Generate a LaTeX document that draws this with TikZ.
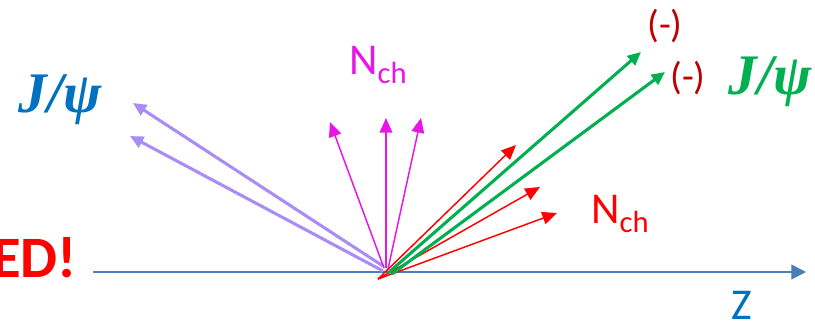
\documentclass[tikz,border=0pt]{standalone}
\usepackage{fontspec}
\setmainfont{Carlito}
\newfontfamily\jfont{Liberation Serif}
\usetikzlibrary{arrows.meta}
\definecolor{axisblue}{RGB}{74,126,187}
\definecolor{zblue}{RGB}{0,112,192}
\definecolor{lilac}{RGB}{170,140,245}
\definecolor{mag}{RGB}{232,20,232}
\definecolor{dred}{RGB}{192,0,0}
\definecolor{gr}{RGB}{0,176,80}
\tikzset{
  thickarr/.style={line width=2.3pt,-{Triangle[length=10pt,width=9pt]}},
  thinarr/.style={line width=1.1pt,-{Triangle[length=11pt,width=9.5pt]}},
  lbl/.style={inner sep=0pt,font=\fontsize{33}{33}\selectfont},
  jpsi/.style={inner sep=0pt,font=\jfont\bfseries\itshape\fontsize{43}{43}\selectfont},
  minus/.style={inner sep=0pt,text=dred,font=\fontsize{29}{29}\selectfont},
}
\newcommand{\subch}{\raisebox{-7pt}{\fontsize{23}{23}\selectfont ch}}
\begin{document}
\begin{tikzpicture}[x=0.75pt,y=-0.75pt]
\useasboundingbox (0,0) rectangle (815,325);
% axis
\coordinate (ax0) at (93,272);
\coordinate (ax1) at (806,272);
\draw[axisblue,line width=1.6pt,-{Triangle[length=11pt,width=11pt]}] (ax0) -- (ax1);
% origins
\coordinate (op1) at (383,266);
\coordinate (op2) at (383,271);
\coordinate (om1) at (384,268);
\coordinate (om2) at (386,268);
\coordinate (om3) at (388,269);
\coordinate (or) at (378,279);
\coordinate (og1) at (388,273);
\coordinate (og2) at (392,274);
% tips
\coordinate (tp1) at (133,103);
\coordinate (tp2) at (130,136);
\coordinate (tm1) at (330,122);
\coordinate (tm2) at (386,118);
\coordinate (tm3) at (421,118);
\coordinate (tr1) at (516,145);
\coordinate (tr2) at (540,187);
\coordinate (tr3) at (557,213);
\coordinate (tg1) at (641,52);
\coordinate (tg2) at (665,72);
% arrows
\draw[lilac,thickarr] (op1) -- (tp1);
\draw[lilac,thickarr] (op2) -- (tp2);
\draw[mag,thinarr] (om1) -- (tm1);
\draw[mag,thinarr] (om2) -- (tm2);
\draw[mag,thinarr] (om3) -- (tm3);
\draw[red,thinarr] (or) -- (tr1);
\draw[red,thinarr] (or) -- (tr2);
\draw[red,thinarr] (or) -- (tr3);
\draw[gr,thickarr] (og1) -- (tg1);
\draw[gr,thickarr] (og2) -- (tg2);
% labels
\node[jpsi,text=zblue] (jl) at (60,100) {J/ψ};
\node[jpsi,text=gr] (jr) at (770,82) {J/ψ};
\node[lbl,text=mag,anchor=base west] (nch1) at (349,74) {N\subch};
\node[lbl,text=red,anchor=base west] (nch2) at (591,223) {N\subch};
\node[minus] (m1) at (665,26) {(-)};
\node[minus] (m2) at (688,78) {(-)};
\node[lbl,text=zblue,anchor=base west] (z) at (731,319) {Z};
\node[inner sep=0pt,text=red,anchor=base east,font=\bfseries\fontsize{44}{44}\selectfont] (ed) at (77,277) {ED!};
\end{tikzpicture}
\end{document}
